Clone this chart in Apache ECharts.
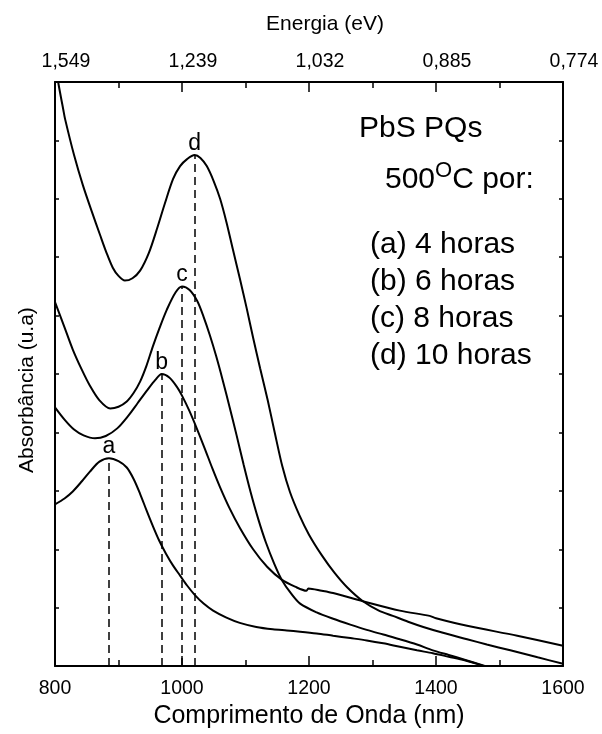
<!DOCTYPE html>
<html>
<head>
<meta charset="utf-8">
<script src="https://cdn.jsdelivr.net/npm/echarts@6/dist/echarts.min.js"></script>
<style>
html,body{margin:0;padding:0;background:#fff;}
#chart{width:602px;height:734px;}
</style>
</head>
<body>
<div id="chart"></div>
<script>
// ---- data (wavelength nm, absorbance a.u.) ----
const curveA = [[800,2.77],[815,2.87],[828,2.99],[842,3.16],[855,3.33],[870,3.50],[885,3.56],[900,3.51],[913,3.40],[924,3.20],[934,2.95],[944,2.67],[954,2.40],[964,2.15],[975,1.92],[986,1.72],[997,1.55],[1008,1.38],[1020,1.22],[1034,1.07],[1049,0.95],[1070,0.83],[1091,0.74],[1117,0.67],[1143,0.63],[1165,0.61],[1186,0.59],[1212,0.56],[1238,0.52],[1265,0.48],[1291,0.44],[1317,0.39],[1343,0.33],[1370,0.27],[1395,0.22],[1420,0.16],[1445,0.10],[1476,0.00]];
const curveB = [[800,4.43],[815,4.22],[830,4.05],[845,3.95],[863,3.90],[880,3.94],[898,4.07],[915,4.28],[930,4.50],[945,4.72],[958,4.90],[968,5.00],[980,4.94],[992,4.78],[1000,4.63],[1012,4.36],[1024,4.05],[1036,3.72],[1048,3.38],[1060,3.06],[1075,2.70],[1091,2.37],[1112,2.00],[1134,1.70],[1157,1.48],[1178,1.36],[1196,1.29],[1199,1.33],[1220,1.29],[1238,1.25],[1285,1.11],[1343,0.95],[1390,0.86],[1400,0.82],[1449,0.69],[1528,0.52],[1600,0.35]];
const curveC = [[800,6.23],[815,5.80],[828,5.42],[842,5.08],[855,4.80],[870,4.55],[887,4.41],[900,4.44],[913,4.53],[924,4.68],[934,4.87],[944,5.14],[954,5.47],[965,5.80],[976,6.10],[990,6.40],[1000,6.50],[1012,6.44],[1024,6.25],[1034,5.98],[1044,5.66],[1054,5.30],[1064,4.90],[1075,4.43],[1086,3.95],[1097,3.45],[1108,2.98],[1120,2.52],[1132,2.12],[1145,1.76],[1157,1.48],[1172,1.24],[1186,1.07],[1212,0.92],[1238,0.81],[1265,0.71],[1291,0.62],[1317,0.54],[1343,0.46],[1370,0.37],[1395,0.27],[1420,0.19],[1445,0.11],[1478,0.00]];
const curveD = [[800,10.40],[805,10.00],[813,9.53],[816,9.36],[830,8.75],[844,8.23],[858,7.78],[871,7.38],[881,7.08],[891,6.82],[900,6.68],[910,6.60],[922,6.64],[934,6.77],[948,7.08],[961,7.50],[973,7.92],[986,8.34],[997,8.56],[1008,8.68],[1020,8.75],[1029,8.70],[1039,8.56],[1050,8.30],[1060,8.00],[1070,7.60],[1080,7.14],[1091,6.64],[1102,6.12],[1112,5.62],[1123,5.10],[1135,4.55],[1146,4.00],[1158,3.42],[1170,2.98],[1185,2.58],[1200,2.25],[1220,1.90],[1240,1.60],[1260,1.35],[1285,1.11],[1310,0.95],[1332,0.86],[1356,0.76],[1380,0.67],[1411,0.57],[1449,0.46],[1480,0.37],[1517,0.27],[1560,0.15],[1600,0.04]];

const peakWavelength = [885, 968, 1000, 1020];
const peakAbsorbance = [3.56, 5.00, 6.50, 8.75];
const peakLetters = ['a', 'b', 'c', 'd'];

const wavelengthMin = 800, wavelengthMax = 1600, wavelengthStep = 200;
const energyLabels = ['1,549', '1,239', '1,032', '0,885', '0,774'];

const legendTitle = 'PbS PQs';
const legendTemp = ['500', 'O', 'C por:'];
const legendLines = ['(a) 4 horas', '(b) 6 horas', '(c) 8 horas', '(d) 10 horas'];

// ---- chart ----
const FONT = '"Liberation Sans", Arial, Helvetica, sans-serif';
const curves = [curveA, curveB, curveC, curveD];
const chart = echarts.init(document.getElementById('chart'), null, {renderer: 'canvas'});

const axisLineStyle = {show: true, onZero: false, lineStyle: {color: '#000', width: 2}};

const series = curves.map((data, i) => ({
  type: 'line',
  data: data,
  symbol: 'none',
  smooth: 0.3,
  clip: true,
  lineStyle: {color: '#000', width: 2},
  markLine: {
    silent: true,
    symbol: ['none', 'none'],
    label: {show: false},
    lineStyle: {color: '#000', width: 1.5, type: [8, 5]},
    data: [[{coord: [peakWavelength[i], 0]}, {coord: [peakWavelength[i], peakAbsorbance[i]]}]]
  },
  markPoint: {
    silent: true,
    symbol: 'circle',
    symbolSize: 0,
    data: [{coord: [peakWavelength[i], peakAbsorbance[i]], value: peakLetters[i]}],
    label: {show: true, position: 'top', distance: 0, formatter: peakLetters[i],
            fontSize: 23, color: '#000', fontFamily: FONT}
  }
}));

const LEG = 30;
const legendGraphics = [
  {type: 'text', x: 359, y: 129, style: {text: legendTitle, fontSize: LEG, fontFamily: FONT, fill: '#000', align: 'left', verticalAlign: 'middle'}},
  {type: 'text', x: 385, y: 160, style: {
    text: '{n|' + legendTemp[0] + '}{s|' + legendTemp[1] + '}{n|' + legendTemp[2] + '}',
    align: 'left', verticalAlign: 'top',
    rich: {
      n: {fontSize: LEG, fontFamily: FONT, fill: '#000', lineHeight: 40, verticalAlign: 'middle'},
      s: {fontSize: 22, fontFamily: FONT, fill: '#000', lineHeight: 20, verticalAlign: 'top'}
    }
  }}
].concat(legendLines.map((t, k) => ({
  type: 'text', x: 370, y: 244.5 + k * 37, style: {text: t, fontSize: LEG, fontFamily: FONT, fill: '#000', align: 'left', verticalAlign: 'middle'}
})));

const option = {
  animation: false,
  backgroundColor: '#fff',
  grid: {left: 55, right: 39, top: 82, bottom: 60, containLabel: false},
  xAxis: [
    {
      type: 'value', position: 'bottom', min: wavelengthMin, max: wavelengthMax, interval: wavelengthStep,
      axisLine: axisLineStyle,
      axisTick: {show: true, inside: true, length: 10, lineStyle: {color: '#000', width: 1.5}},
      minorTick: {show: true, splitNumber: 2, length: 6, lineStyle: {color: '#000', width: 1.5}},
      splitLine: {show: false},
      axisLabel: {show: true, margin: 13, fontSize: 19.5, color: '#000', fontFamily: FONT, showMinLabel: true, showMaxLabel: true,
        formatter: v => String(v)},
      name: 'Comprimento de Onda (nm)', nameLocation: 'middle', nameGap: 34,
      nameTextStyle: {fontSize: 25, color: '#000', fontFamily: FONT}
    },
    {
      type: 'value', position: 'top', min: wavelengthMin, max: wavelengthMax, interval: wavelengthStep,
      axisLine: axisLineStyle,
      axisTick: {show: true, inside: true, length: 10, lineStyle: {color: '#000', width: 1.5}},
      minorTick: {show: true, splitNumber: 2, length: 6, lineStyle: {color: '#000', width: 1.5}},
      splitLine: {show: false},
      axisLabel: {show: true, margin: 10, fontSize: 19.5, color: '#000', fontFamily: FONT, showMinLabel: true, showMaxLabel: true,
        padding: [0, 0, 0, 22],
        formatter: v => energyLabels[Math.round((v - wavelengthMin) / wavelengthStep)]},
      name: 'Energia (eV)', nameLocation: 'middle', nameGap: 47,
      nameTextStyle: {fontSize: 21, color: '#000', fontFamily: FONT, padding: [0, 0, 0, 32]}
    }
  ],
  yAxis: [
    {
      type: 'value', position: 'left', min: 0, max: 10, interval: 1,
      axisLine: axisLineStyle,
      axisTick: {show: true, inside: true, length: 4, lineStyle: {color: '#000', width: 1.5}},
      splitLine: {show: false},
      axisLabel: {show: false},
      name: 'Absorbância (u.a)', nameLocation: 'middle', nameGap: 17,
      nameTextStyle: {fontSize: 21, color: '#000', fontFamily: FONT, padding: [0, 32, 0, 0]}
    },
    {
      type: 'value', position: 'right', min: 0, max: 10, interval: 1,
      axisLine: axisLineStyle,
      axisTick: {show: true, inside: true, length: 4, lineStyle: {color: '#000', width: 1.5}},
      splitLine: {show: false},
      axisLabel: {show: false}
    }
  ],
  graphic: legendGraphics,
  series: series
};
chart.setOption(option);
</script>
</body>
</html>
